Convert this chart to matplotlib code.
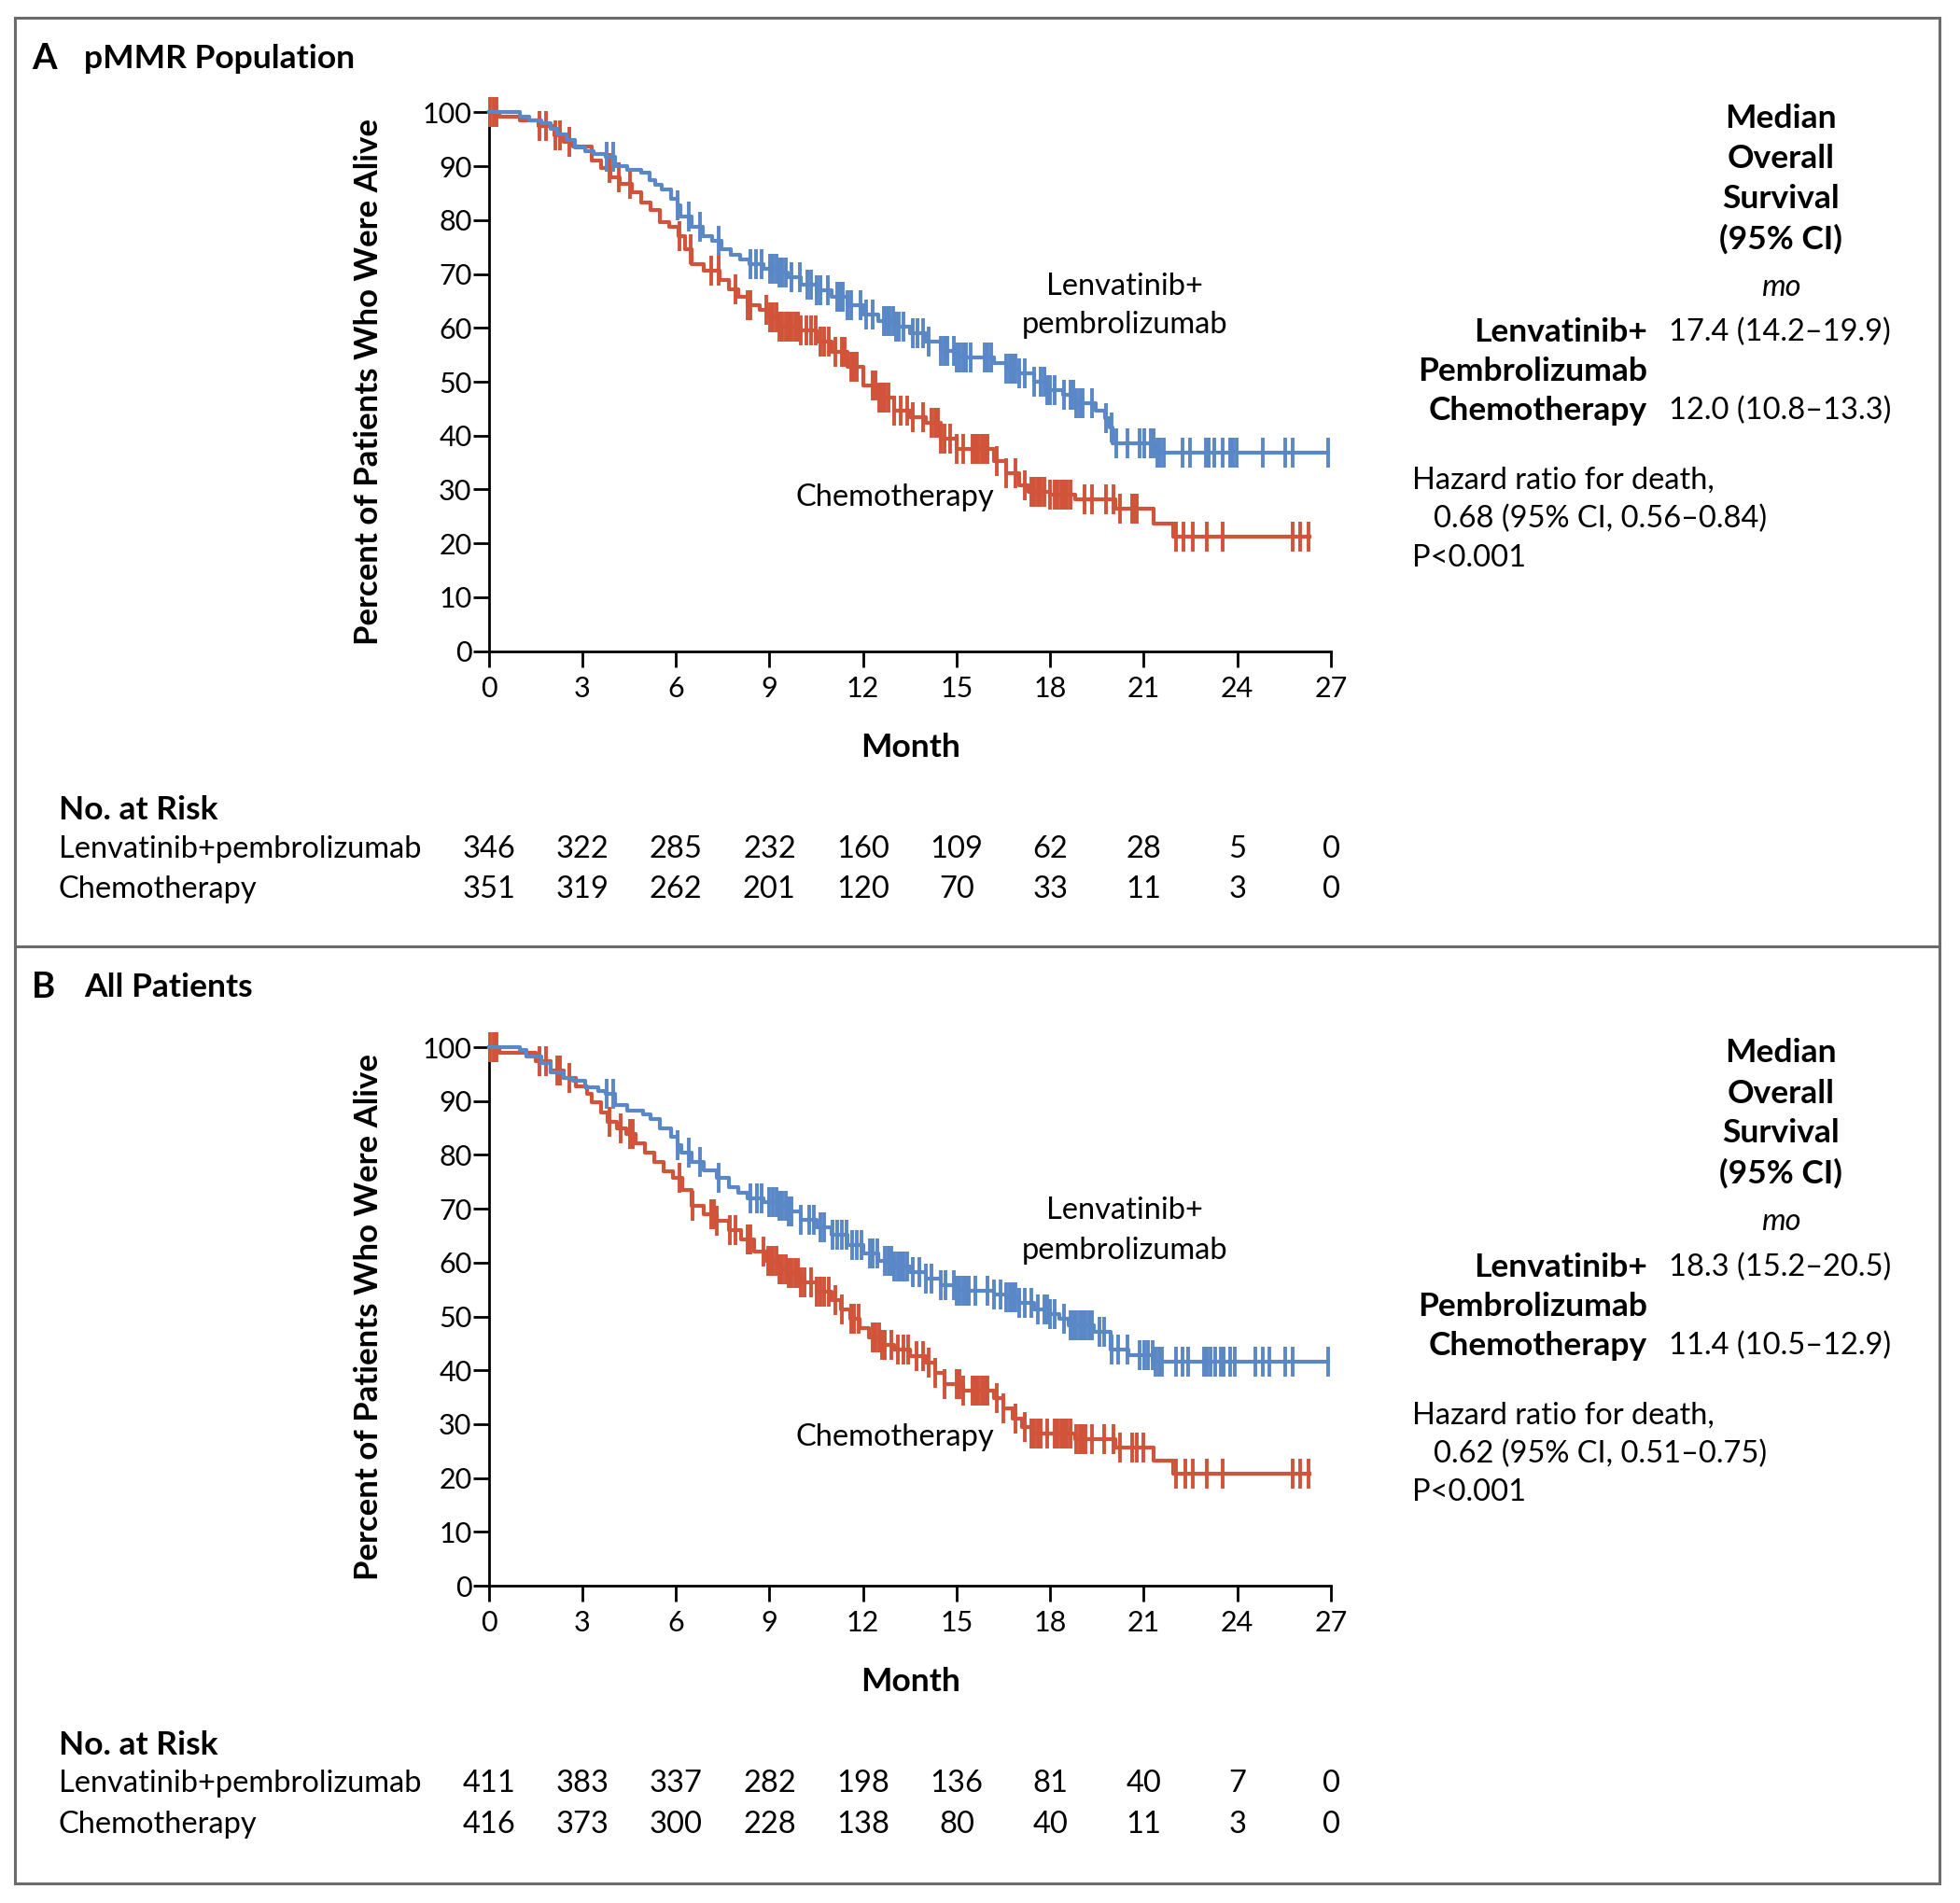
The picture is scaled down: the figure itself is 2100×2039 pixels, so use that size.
import numpy as np
import matplotlib.pyplot as plt
import matplotlib.transforms as mtransforms
from matplotlib.patches import Rectangle
from matplotlib.lines import Line2D

plt.rcParams['font.family'] = ['Lato', 'DejaVu Sans']

W, H = 2100, 2039
BLUE = '#5A87C6'
RED = '#D0533A'
FS = 23.5      # regular text
FSB = 25.5     # bold headings
FST = 22       # tick labels

months = [0, 3, 6, 9, 12, 15, 18, 21, 24, 27]
pct_ticks = [0, 10, 20, 30, 40, 50, 60, 70, 80, 90, 100]

# ---------------- Panel A: pMMR population ----------------
a_lenva_t = [0, 1.0, 1.3, 1.7, 2.0, 2.2, 2.5, 2.75, 3.1, 3.35, 3.75, 4.05, 4.45, 4.9, 5.15,
             5.35, 5.55, 5.85, 6.05, 6.15, 6.5, 6.85, 7.15, 7.45, 7.75, 8.05, 8.35, 8.8,
             9.3, 9.6, 10.0, 10.5, 11.0, 11.5, 12.0, 12.5, 13.0, 13.5, 14.0, 14.5, 15.0,
             16.2, 16.6, 17.0, 17.5, 17.9, 18.4, 18.8, 19.45, 19.75, 19.9, 20.0, 21.35, 26.91]
a_lenva_s = [100, 99.3, 98.5, 98.0, 97.0, 96.0, 94.9, 93.5, 92.8, 92.3, 91.7, 90.0, 89.4, 88.8, 87.4,
             86.5, 85.7, 84.0, 82.8, 80.7, 78.7, 77.0, 76.1, 74.7, 73.5, 72.7, 71.8, 71.0,
             70.2, 69.5, 68.0, 67.0, 65.8, 64.2, 62.5, 61.2, 60.2, 59.0, 57.5, 55.8, 54.5,
             53.5, 52.5, 51.5, 50.0, 48.5, 47.5, 46.0, 44.6, 43.3, 41.5, 38.6, 36.8, 36.8]
a_lenva_cens = [3.78, 3.98, 6.07, 6.42, 6.77, 7.37, 8.4, 8.56, 8.76, 9.02, 9.12, 9.22, 9.32, 9.42,
                9.52, 9.72, 9.97, 10.22, 10.32, 10.52, 10.62, 10.86, 11.16, 11.26, 11.36, 11.51,
                11.61, 11.91, 12.11, 12.31, 12.66, 12.76, 12.86, 12.96, 13.06, 13.16, 13.31, 13.61,
                13.76, 13.91, 14.11, 14.5, 14.6, 14.7, 14.9, 15.0, 15.1, 15.2, 15.3, 15.45, 15.9,
                16.0, 16.1, 16.6, 16.7, 16.8, 16.9, 17.0, 17.2, 17.5, 17.7, 17.8, 17.9, 18.0, 18.14,
                18.44, 18.64, 18.74, 18.84, 18.94, 19.04, 19.34, 19.79, 19.98, 20.13, 20.48, 20.88,
                21.03, 21.23, 21.33, 21.43, 21.53, 21.63, 22.23, 22.48, 22.98, 23.08, 23.27, 23.52,
                23.77, 23.87, 23.97, 24.82, 25.52, 25.77, 26.91]

a_chemo_t = [0, 0.35, 1.0, 1.6, 2.1, 2.4, 2.7, 3.3, 3.6, 3.9, 4.2, 4.6, 4.9, 5.2, 5.5, 5.8, 6.1,
             6.3, 6.5, 6.9, 7.4, 7.7, 8.0, 8.3, 8.7, 9.0, 9.3, 10.0, 10.5, 11.0, 11.5, 12.0, 12.5,
             13.0, 13.5, 14.0, 14.5, 15.0, 16.2, 16.6, 17.0, 17.3, 18.0, 18.8, 20.1, 21.33,
             21.93, 26.32]
a_chemo_s = [100, 99.2, 98.5, 97.5, 95.8, 94.6, 93.7, 91.1, 89.7, 87.9, 86.8, 85.1, 83.3, 81.9,
             79.6, 78.7, 77.0, 74.7, 71.8, 70.6, 68.9, 67.2, 65.7, 64.3, 63.4, 62.0, 60.3, 59.5,
             57.5, 55.6, 52.7, 49.3, 47.0, 44.7, 43.5, 42.3, 39.5, 37.6, 35.3, 33.1, 30.8, 29.6,
             29.0, 28.2, 26.5, 23.6, 21.2, 21.2]
a_chemo_cens = [0.05, 0.15, 0.25, 1.64, 1.84, 2.14, 2.29, 2.6, 3.88, 4.18, 4.53, 6.12, 6.47, 7.12,
                7.37, 7.92, 8.3, 8.4, 8.9, 9.02, 9.12, 9.22, 9.32, 9.42, 9.52, 9.62, 9.72, 9.82,
                9.92, 10.02, 10.17, 10.32, 10.47, 10.62, 10.76, 10.91, 11.11, 11.31, 11.41, 11.61,
                11.71, 11.81, 12.31, 12.41, 12.51, 12.61, 12.71, 12.81, 13.01, 13.21, 13.41, 13.61,
                13.91, 14.2, 14.3, 14.4, 14.5, 14.6, 14.8, 15.0, 15.2, 15.5, 15.6, 15.7, 15.8, 15.9,
                16.0, 16.3, 16.6, 16.9, 17.2, 17.4, 17.5, 17.6, 17.7, 17.8, 18.0, 18.14, 18.24,
                18.34, 18.44, 18.54, 18.64, 19.09, 19.34, 19.79, 20.03, 20.23, 20.63, 20.73, 20.78,
                22.03, 22.28, 22.58, 23.03, 23.52, 25.77, 26.02, 26.27]

a_risk_lenva = [346, 322, 285, 232, 160, 109, 62, 28, 5, 0]
a_risk_chemo = [351, 319, 262, 201, 120, 70, 33, 11, 3, 0]
a_median = ['17.4 (14.2\u201319.9)', '12.0 (10.8\u201313.3)']
a_hr = '0.68 (95% CI, 0.56\u20130.84)'

# ---------------- Panel B: all patients ----------------
b_lenva_t = [0, 1.0, 1.2, 1.7, 2.0, 2.4, 2.7, 3.1, 3.5, 3.75, 4.05, 4.45, 4.95, 5.2, 5.5, 5.85,
             6.07, 6.17, 6.5, 6.9, 7.3, 7.7, 8.0, 8.3, 8.8, 9.3, 9.6, 10.0, 10.5, 11.0, 11.5,
             12.0, 12.5, 13.0, 13.5, 14.0, 14.5, 15.0, 16.2, 16.6, 17.0, 17.5, 18.0, 18.3, 18.6,
             19.4, 19.95, 20.5, 21.3, 26.91]
b_lenva_s = [100, 99.4, 98.3, 97.0, 95.4, 94.3, 93.7, 92.5, 91.9, 91.4, 89.3, 88.2, 87.6, 86.7,
             85.0, 83.3, 81.8, 80.4, 78.7, 77.2, 75.8, 74.0, 72.9, 72.0, 71.2, 70.6, 69.5, 68.0,
             66.5, 65.1, 63.3, 61.7, 60.3, 59.3, 58.2, 57.0, 55.8, 54.7, 54.0, 53.6, 52.5, 51.3,
             50.5, 49.5, 48.4, 47.2, 43.8, 42.9, 41.6, 41.6]
b_lenva_cens = [3.78, 3.98, 6.07, 6.42, 6.77, 7.37, 8.4, 8.6, 8.76, 9.0, 9.12, 9.22, 9.32, 9.42,
                9.52, 9.62, 9.72, 10.02, 10.27, 10.42, 10.62, 10.76, 11.01, 11.16, 11.31, 11.46,
                11.66, 11.81, 11.96, 12.21, 12.31, 12.46, 12.71, 12.81, 12.91, 13.01, 13.11, 13.21,
                13.31, 13.41, 13.61, 13.81, 14.0, 14.2, 14.5, 14.65, 14.9, 15.0, 15.1, 15.2, 15.3,
                15.4, 15.6, 16.0, 16.2, 16.4, 16.6, 16.7, 16.8, 16.9, 17.0, 17.2, 17.4, 17.6, 17.8,
                17.9, 18.0, 18.14, 18.44, 18.64, 18.74, 18.84, 18.94, 19.04, 19.14, 19.24, 19.34,
                19.59, 19.74, 19.98, 20.18, 20.48, 20.88, 21.03, 21.13, 21.28, 21.38, 21.48, 21.58,
                22.03, 22.23, 22.43, 22.93, 23.03, 23.13, 23.28, 23.47, 23.57, 23.77, 23.92, 24.57,
                24.82, 25.02, 25.52, 25.77, 26.91]

b_chemo_t = [0, 0.35, 1.5, 2.0, 2.4, 2.8, 3.15, 3.3, 3.6, 3.8, 4.1, 4.4, 4.7, 5.0, 5.3, 5.6, 5.9,
             6.2, 6.5, 6.9, 7.3, 7.7, 8.1, 8.5, 8.9, 9.3, 9.6, 10.0, 10.5, 11.0, 11.3, 11.6, 11.9,
             12.2, 12.6, 13.0, 13.5, 14.0, 14.3, 14.6, 15.2, 16.2, 16.5, 16.8, 17.1, 17.4, 18.8,
             20.1, 21.33, 21.93, 26.32]
b_chemo_s = [100, 99.0, 97.4, 95.7, 94.3, 92.8, 91.4, 89.7, 87.9, 86.2, 85.0, 83.9, 82.1, 80.4,
             78.7, 77.0, 75.8, 73.5, 70.6, 68.9, 67.7, 66.0, 64.3, 62.0, 60.3, 58.8, 58.0, 56.4,
             54.6, 53.0, 51.3, 49.6, 47.8, 46.1, 44.8, 43.8, 42.6, 41.5, 39.5, 37.4, 36.2, 34.8,
             33.0, 31.1, 29.5, 28.3, 27.3, 25.6, 23.3, 20.8, 20.8]
b_chemo_cens = [0.05, 0.15, 0.25, 1.64, 1.84, 2.19, 2.29, 2.6, 3.88, 4.23, 4.53, 4.63, 6.12, 6.52,
                7.12, 7.22, 7.32, 7.72, 7.92, 8.3, 8.4, 8.8, 8.95, 9.02, 9.12, 9.22, 9.32, 9.42,
                9.52, 9.62, 9.72, 9.82, 9.92, 10.02, 10.12, 10.32, 10.52, 10.62, 10.76, 10.91,
                11.11, 11.31, 11.61, 11.71, 11.86, 12.31, 12.41, 12.51, 12.61, 12.71, 12.91, 13.11,
                13.31, 13.46, 13.71, 13.91, 14.1, 14.3, 14.6, 15.0, 15.1, 15.2, 15.5, 15.6, 15.7,
                15.8, 15.9, 16.0, 16.3, 16.5, 16.9, 17.2, 17.4, 17.5, 17.6, 17.7, 17.9, 18.14,
                18.24, 18.34, 18.44, 18.54, 18.64, 18.84, 18.94, 19.04, 19.14, 19.34, 19.74, 20.03,
                20.23, 20.63, 20.78, 20.98, 22.03, 22.33, 22.58, 23.03, 23.52, 25.77, 26.02, 26.27]

b_risk_lenva = [411, 383, 337, 282, 198, 136, 81, 40, 7, 0]
b_risk_chemo = [416, 373, 300, 228, 138, 80, 40, 11, 3, 0]
b_median = ['18.3 (15.2\u201320.5)', '11.4 (10.5\u201312.9)']
b_hr = '0.62 (95% CI, 0.51\u20130.75)'


def fx(px):
    return px / W


def fy(py):
    return 1 - py / H


def surv_at(times, t_knots, s_knots):
    idx = np.searchsorted(np.asarray(t_knots), np.asarray(times), side='right') - 1
    return np.asarray(s_knots)[idx]


def draw_curve(ax, t, s, cens, color):
    ax.step(t, s, where='post', color=color, lw=3.0, clip_on=False, zorder=3)
    ax.plot(cens, surv_at(cens, t, s), ls='none', marker='|', ms=23, mew=2.8,
            color=color, clip_on=False, zorder=3)


def draw_panel(fig, off, letter, title, title_y, lenva, chemo, risk, median, hr, lab_y):
    y100, y0 = 120.5 + off, 697.6 + off
    ax = fig.add_axes([fx(523.6), fy(y0), (1426 - 523.6) / W, (y0 - y100) / H])
    draw_curve(ax, *chemo, RED)
    draw_curve(ax, *lenva, BLUE)
    ax.set_xlim(0, 27)
    ax.set_ylim(0, 100)
    ax.set_xticks(months)
    ax.set_yticks(pct_ticks)
    for side in ['top', 'right']:
        ax.spines[side].set_visible(False)
    for side in ['left', 'bottom']:
        ax.spines[side].set_linewidth(2.0)
    ax.tick_params(axis='both', length=12, width=2.0, labelsize=FST)
    ax.tick_params(axis='y', pad=1)
    ax.tick_params(axis='x', pad=7)

    # axis titles
    fig.text(fx(395), (fy(y0) + fy(y100)) / 2, 'Percent of Patients Who Were Alive',
             rotation=90, ha='center', va='center', fontsize=FSB - 0.5, fontweight='bold')
    fig.text(fx(976), fy(801 + off), 'Month', ha='center', va='center',
             fontsize=FSB, fontweight='bold')

    # panel title
    fig.text(fx(34), fy(title_y), letter, ha='left', va='center', fontsize=FSB + 2, fontweight='bold')
    fig.text(fx(90), fy(title_y), title, ha='left', va='center', fontsize=FSB, fontweight='bold')

    # curve labels
    fig.text(fx(1205), fy(lab_y[0]), 'Lenvatinib+', ha='center', va='center', fontsize=FS)
    fig.text(fx(1205), fy(lab_y[1]), 'pembrolizumab', ha='center', va='center', fontsize=FS)
    fig.text(fx(959), fy(lab_y[2]), 'Chemotherapy', ha='center', va='center', fontsize=FS)

    # median overall survival block
    for i, line in enumerate(['Median', 'Overall', 'Survival', '(95% CI)']):
        fig.text(fx(1908), fy(127 + off + i * 43), line, ha='center', va='center',
                 fontsize=FSB, fontweight='bold')
    fig.text(fx(1908), fy(308 + off), 'mo', ha='center', va='center', fontsize=FS, style='italic')
    fig.text(fx(1765), fy(356 + off), 'Lenvatinib+', ha='right', va='center',
             fontsize=FSB, fontweight='bold')
    fig.text(fx(1765), fy(398 + off), 'Pembrolizumab', ha='right', va='center',
             fontsize=FSB, fontweight='bold')
    fig.text(fx(1765), fy(440 + off), 'Chemotherapy', ha='right', va='center',
             fontsize=FSB, fontweight='bold')
    fig.text(fx(1788), fy(356 + off), median[0], ha='left', va='center', fontsize=FS)
    fig.text(fx(1788), fy(440 + off), median[1], ha='left', va='center', fontsize=FS)
    fig.text(fx(1513), fy(515 + off), 'Hazard ratio for death,', ha='left', va='center', fontsize=FS)
    fig.text(fx(1536), fy(556 + off), hr, ha='left', va='center', fontsize=FS)
    fig.text(fx(1513), fy(598 + off), 'P<0.001', ha='left', va='center', fontsize=FS)

    # number at risk
    fig.text(fx(63), fy(868 + off), 'No. at Risk', ha='left', va='center',
             fontsize=FSB, fontweight='bold')
    trans = mtransforms.blended_transform_factory(ax.transData, fig.transFigure)
    for row, (name, vals) in enumerate([('Lenvatinib+pembrolizumab', risk[0]),
                                        ('Chemotherapy', risk[1])]):
        yy = fy(910 + off + row * 43)
        fig.text(fx(63), yy, name, ha='left', va='center', fontsize=FS)
        for m, v in zip(months, vals):
            ax.text(m, yy, str(v), transform=trans, ha='center', va='center',
                    fontsize=FS, clip_on=False)
    return ax


fig = plt.figure(figsize=(W / 100, H / 100), dpi=100)

draw_panel(fig, 0, 'A', 'pMMR Population', 63,
           (a_lenva_t, a_lenva_s, a_lenva_cens), (a_chemo_t, a_chemo_s, a_chemo_cens),
           (a_risk_lenva, a_risk_chemo), a_median, a_hr, (307, 348, 533))
draw_panel(fig, 1001.5, 'B', 'All Patients', 1058,
           (b_lenva_t, b_lenva_s, b_lenva_cens), (b_chemo_t, b_chemo_s, b_chemo_cens),
           (b_risk_lenva, b_risk_chemo), b_median, b_hr, (1297, 1340, 1540))

# frame and divider
fig.add_artist(Rectangle((fx(16), fy(2018)), (2078 - 16) / W, (2018 - 19) / H,
                         transform=fig.transFigure, fill=False, ec='#6b6b6b', lw=2.2))
fig.add_artist(Line2D([fx(16), fx(2078)], [fy(1014), fy(1014)], transform=fig.transFigure,
                      color='#6b6b6b', lw=2.2))

fig.savefig('out.png', dpi=100)
